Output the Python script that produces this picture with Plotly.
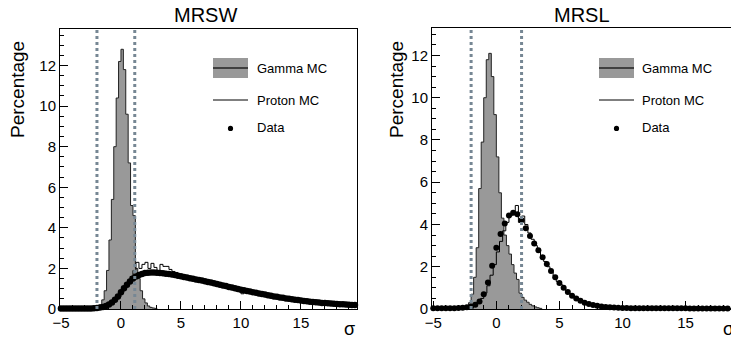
import plotly.graph_objects as go

# ---------------- data: MRSW (left) ----------------
gamma_w_start = -2.2
gamma_w_width = 0.2
gamma_w = [0.05, 0.1, 0.2, 0.45, 0.9, 1.9, 3.4, 5.4, 8.0, 10.4, 12.2, 12.8, 11.8, 9.6,
           7.2, 5.1, 4.6, 2.0, 1.5, 0.9, 0.5, 0.3, 0.15, 0.08, 0.05, 0.03]

proton_w_start = -5.0
proton_w_width = 0.25
proton_w = [0.0, 0.0, 0.01, 0.01, 0.01, 0.02, 0.02, 0.02, 0.03, 0.03, 0.04, 0.04, 0.05, 0.06,
            0.08, 0.12, 0.2, 0.3, 0.45, 0.6, 0.85, 1.05, 1.3, 1.6, 1.9, 2.3, 2.0, 2.2, 2.3,
            2.0, 2.25, 2.05, 1.85, 2.2, 2.1, 2.1, 1.95, 1.85, 1.8, 1.7,
            1.62, 1.58, 1.56, 1.5, 1.48, 1.44, 1.42, 1.4, 1.35, 1.33, 1.28, 1.26, 1.15, 1.2,
            1.15, 1.1, 1.08, 1.02, 0.98, 0.97, 0.75, 0.9, 0.86, 0.84, 0.8, 0.78, 0.75, 0.72,
            0.62, 0.66, 0.63, 0.6, 0.58, 0.55, 0.45, 0.5, 0.48, 0.46, 0.44, 0.42, 0.34, 0.38,
            0.37, 0.35, 0.33, 0.32, 0.3, 0.29, 0.28, 0.27, 0.26, 0.25, 0.24, 0.23, 0.22, 0.21,
            0.2, 0.19, 0.19, 0.18]

data_w_start = -5.0
data_w_step = 0.25
data_w = [0.03, 0.03, 0.03, 0.03, 0.03, 0.03, 0.03, 0.03, 0.03, 0.03, 0.03,
          0.04, 0.05, 0.07, 0.1, 0.15, 0.22, 0.32, 0.45, 0.62, 0.82, 1.02, 1.2, 1.36, 1.5,
          1.6, 1.68, 1.73, 1.77, 1.79, 1.8, 1.8, 1.79, 1.78, 1.76, 1.74, 1.72, 1.7, 1.67,
          1.64, 1.61, 1.58, 1.55, 1.52, 1.49, 1.46, 1.43, 1.4, 1.37, 1.33, 1.3, 1.27, 1.23,
          1.2, 1.16, 1.13, 1.09, 1.06, 1.02, 0.99, 0.95, 0.92, 0.89, 0.86, 0.83, 0.8, 0.77,
          0.74, 0.71, 0.68, 0.65, 0.62, 0.6, 0.57, 0.55, 0.52, 0.5, 0.48, 0.46, 0.44, 0.42,
          0.4, 0.38, 0.36, 0.35, 0.33, 0.32, 0.3, 0.29, 0.28, 0.27, 0.26, 0.25, 0.24, 0.23,
          0.22, 0.21, 0.2, 0.2]

cuts_w = [-2.0, 1.15]

# ---------------- data: MRSL (right) ----------------
gamma_l_start = -2.4
gamma_l_width = 0.2
gamma_l = [0.1, 0.3, 0.7, 1.5, 2.9, 5.7, 7.9, 10.0, 11.8, 12.1, 11.0, 9.2, 7.2, 5.5,
           4.3, 3.5, 3.0, 2.6, 2.1, 1.7, 1.4, 0.75, 0.55, 0.42, 0.32, 0.22, 0.15, 0.1,
           0.06, 0.03]

proton_l_start = -5.0
proton_l_width = 0.25
proton_l = [0.02, 0.02, 0.02, 0.03, 0.03, 0.03, 0.03, 0.04, 0.04, 0.05,
            0.06, 0.09, 0.14, 0.22, 0.33, 0.5, 0.75, 1.1, 1.6, 2.1, 2.7, 3.2, 3.7, 4.1,
            4.4, 4.55, 4.9, 4.1, 4.4, 4.0, 3.6, 3.3, 3.0, 2.75, 2.5, 2.25, 2.0, 1.75, 1.55,
            1.3, 1.15, 1.0, 0.85, 0.72, 0.6, 0.5, 0.42, 0.35, 0.29, 0.24, 0.2, 0.16,
            0.13, 0.11, 0.09, 0.08, 0.07, 0.06, 0.06, 0.05, 0.05, 0.05, 0.04, 0.04, 0.04,
            0.04, 0.03, 0.03, 0.03, 0.03, 0.03, 0.03, 0.03, 0.03, 0.03, 0.03, 0.02, 0.02,
            0.02, 0.02, 0.02, 0.02, 0.02, 0.02, 0.02, 0.02, 0.02, 0.02, 0.02, 0.02, 0.02,
            0.02, 0.02, 0.02, 0.02, 0.02, 0.02, 0.02, 0.02, 0.02]

data_l_start = -5.0
data_l_step = 1.0 / 3.0
data_l = [0.03, 0.03, 0.03, 0.03, 0.04, 0.04, 0.05, 0.06, 0.08,
          0.12, 0.2, 0.35, 0.7, 1.25, 2.05, 2.9, 3.55, 4.05, 4.42, 4.55, 4.48, 4.2, 3.82,
          3.45, 3.1, 2.78, 2.45, 2.13, 1.8, 1.5, 1.23, 1.0, 0.8, 0.63, 0.5, 0.39, 0.3,
          0.24, 0.19, 0.15, 0.12, 0.1, 0.08, 0.07, 0.06, 0.05, 0.05, 0.04, 0.04,
          0.04, 0.04, 0.03, 0.03, 0.03, 0.03, 0.03, 0.03, 0.03, 0.03, 0.03, 0.03, 0.02,
          0.02, 0.02, 0.02, 0.02, 0.02, 0.02, 0.02, 0.02, 0.02, 0.02, 0.02, 0.02, 0.02]

cuts_l = [-2.0, 2.0]

titles = ["MRSW", "MRSL"]
ytitle = "Percentage"
xtitle = "σ"
legend_labels = ["Gamma MC", "Proton MC", "Data"]

# ---------------- helpers ----------------
W, H = 731, 343
FONT = "Arial, Liberation Sans, sans-serif"
GRAY = "rgb(153,153,153)"
CUTC = "rgb(118,135,148)"


def px(xp):
    return xp / W


def py(yp):
    return 1 - yp / H


def step_xy(start, width, vals):
    edges = [start + width * i for i in range(len(vals) + 1)]
    xs = [edges[0]] + edges[:-1] + [edges[-1]]
    ys = [0] + list(vals) + [0]
    return xs, ys


def centers(start, step, vals):
    return [start + step * i for i in range(len(vals))]


fig = go.Figure()

panels = [
    dict(g=(gamma_w_start, gamma_w_width, gamma_w), p=(proton_w_start, proton_w_width, proton_w),
         d=(data_w_start, data_w_step, data_w), cuts=cuts_w, xa="x", ya="y", ms=6.5),
    dict(g=(gamma_l_start, gamma_l_width, gamma_l), p=(proton_l_start, proton_l_width, proton_l),
         d=(data_l_start, data_l_step, data_l), cuts=cuts_l, xa="x2", ya="y2", ms=6),
]

for pn in panels:
    gx, gy = step_xy(*pn["g"])
    fig.add_trace(go.Scatter(x=gx, y=gy, mode="lines", line=dict(shape="hv", color="#222", width=1),
                             fill="tozeroy", fillcolor=GRAY, xaxis=pn["xa"], yaxis=pn["ya"],
                             showlegend=False, hoverinfo="skip"))
    prx, pry = step_xy(*pn["p"])
    fig.add_trace(go.Scatter(x=prx, y=pry, mode="lines", line=dict(shape="hv", color="black", width=1),
                             xaxis=pn["xa"], yaxis=pn["ya"], showlegend=False, hoverinfo="skip"))
    dx = centers(*pn["d"])
    fig.add_trace(go.Scatter(x=dx, y=pn["d"][2], mode="markers",
                             marker=dict(color="black", size=pn["ms"], line=dict(width=0)),
                             xaxis=pn["xa"], yaxis=pn["ya"], showlegend=False, cliponaxis=False))

shapes = []
for pn in panels:
    for c in pn["cuts"]:
        shapes.append(dict(type="line", xref=pn["xa"], yref=pn["ya"] + " domain", x0=c, x1=c, y0=0, y1=1,
                           line=dict(color=CUTC, width=3, dash="dot"), layer="above"))

axis_common = dict(showgrid=False, zeroline=False, showline=True, linecolor="black", linewidth=1,
                   mirror=True, ticks="inside", tickcolor="black", tickwidth=1, automargin=False,
                   tickfont=dict(family=FONT, size=15, color="black"))

fig.update_layout(
    template="none",
    width=W, height=H, margin=dict(l=0, r=0, t=0, b=0, pad=0, autoexpand=False),
    paper_bgcolor="white", plot_bgcolor="white", showlegend=False,
    xaxis=dict(domain=[px(60), px(357)], range=[-5.08, 19.67], anchor="y", tick0=0, dtick=5, ticklen=8,
               minor=dict(ticks="inside", dtick=1, ticklen=4, tickcolor="black"), **axis_common),
    yaxis=dict(domain=[py(309), py(29)], range=[0, 13.8], anchor="x", tick0=0, dtick=2, ticklen=8,
               minor=dict(ticks="inside", dtick=0.5, ticklen=4, tickcolor="black"), **axis_common),
    xaxis2=dict(domain=[px(432), 1.0], range=[-5.1, 18.6], anchor="y2", tick0=0, dtick=5, ticklen=8,
                minor=dict(ticks="inside", dtick=1, ticklen=4, tickcolor="black"), **axis_common),
    yaxis2=dict(domain=[py(309), py(28)], range=[0, 13.3], anchor="x2", tick0=0, dtick=2, ticklen=8,
                minor=dict(ticks="inside", dtick=0.5, ticklen=4, tickcolor="black"), **axis_common),
)

ann = []
# panel titles
for t, xc in zip(titles, [205, 582]):
    ann.append(dict(text=t, x=px(xc), y=py(15), xref="paper", yref="paper", showarrow=False,
                    font=dict(family=FONT, size=20, color="black"), xanchor="center", yanchor="middle"))
# y titles
for xc in [18, 397]:
    ann.append(dict(text=ytitle, x=px(xc), y=py(90), xref="paper", yref="paper", showarrow=False,
                    textangle=-90, font=dict(family=FONT, size=19, color="black"),
                    xanchor="center", yanchor="middle"))
# x titles
for xc in [349, 728]:
    ann.append(dict(text=xtitle, x=px(xc), y=py(329), xref="paper", yref="paper", showarrow=False,
                    font=dict(family=FONT, size=18, color="black"), xanchor="center", yanchor="middle"))

# legends (drawn manually)
for bx0, bx1, tx in [(213, 248, 255), (599, 634, 640)]:
    shapes.append(dict(type="rect", xref="paper", yref="paper", x0=px(bx0), x1=px(bx1),
                       y0=py(78), y1=py(58), fillcolor=GRAY, line=dict(width=0)))
    shapes.append(dict(type="line", xref="paper", yref="paper", x0=px(bx0), x1=px(bx1),
                       y0=py(68), y1=py(68), line=dict(color="#222", width=1.5)))
    shapes.append(dict(type="line", xref="paper", yref="paper", x0=px(bx0), x1=px(bx1),
                       y0=py(100), y1=py(100), line=dict(color="black", width=1)))
    dcx = (bx0 + bx1) / 2
    shapes.append(dict(type="circle", xref="paper", yref="paper", x0=px(dcx - 2.6), x1=px(dcx + 2.6),
                       y0=py(131), y1=py(125.8), fillcolor="black", line=dict(width=0)))
    for lab, yc in zip(legend_labels, [68, 100, 128]):
        ann.append(dict(text=lab, x=px(tx), y=py(yc), xref="paper", yref="paper", showarrow=False,
                        font=dict(family=FONT, size=13, color="black"), xanchor="left", yanchor="middle"))

fig.update_layout(shapes=shapes, annotations=ann)
fig.write_html("out.html")
